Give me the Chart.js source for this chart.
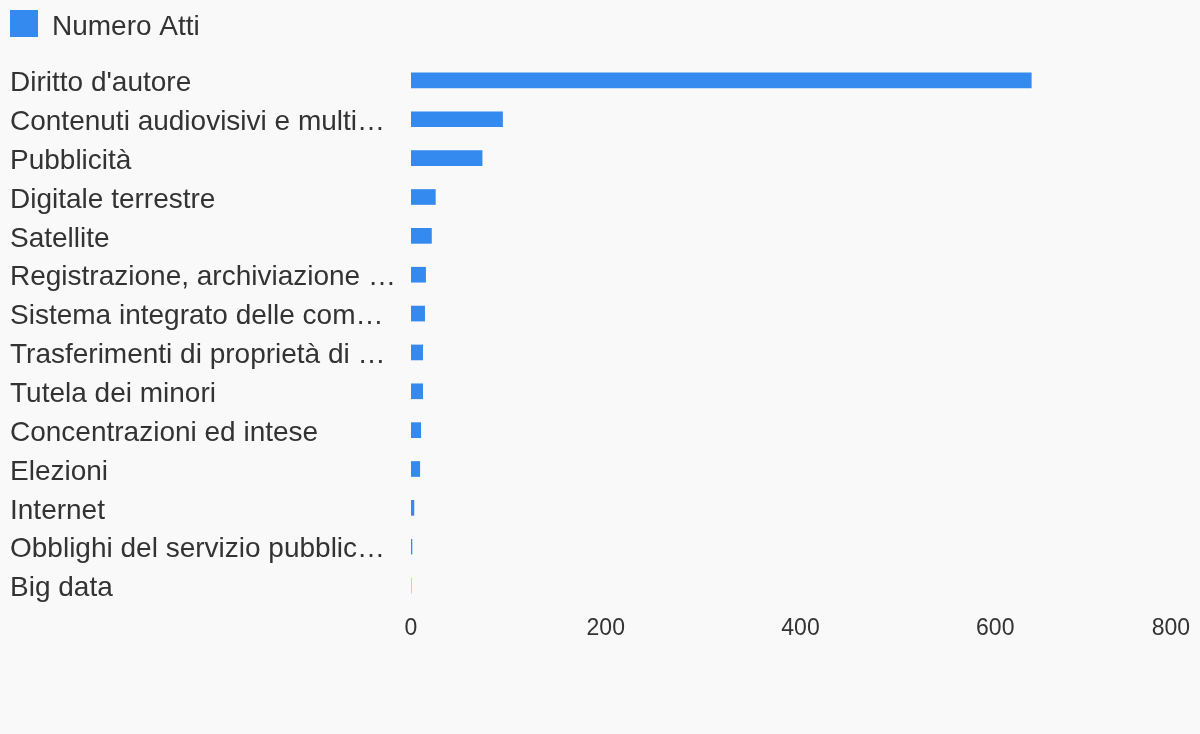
<!DOCTYPE html>
<html lang="it">
<head>
<meta charset="utf-8">
<title>Numero Atti per materia</title>
<script src="https://cdn.jsdelivr.net/npm/chart.js@4.4.1/dist/chart.umd.min.js"></script>
<style>
  html, body { margin: 0; padding: 0; background: #f9f9f9; }
  #wrap { width: 1200px; height: 734px; }
  canvas { display: block; }
</style>
</head>
<body>
<div id="wrap"><canvas id="chart" width="1200" height="734"></canvas></div>
<script>
// Materie (asse verticale)
const categories = [
  "Diritto d'autore",
  "Contenuti audiovisivi e multimediali",
  "Pubblicità",
  "Digitale terrestre",
  "Satellite",
  "Registrazione, archiviazione e conservazione dei programmi",
  "Sistema integrato delle comunicazioni",
  "Trasferimenti di proprietà di società",
  "Tutela dei minori",
  "Concentrazioni ed intese",
  "Elezioni",
  "Internet",
  "Obblighi del servizio pubblico radiotelevisivo",
  "Big data"
];

// Numero di atti per materia
const seriesName = "Numero Atti";
const numeroAtti = [637, 94, 73, 25, 21, 15, 14, 12, 12, 10, 9, 3, 1, 0];

// Etichette dell'asse orizzontale
const xTicks = [0, 200, 400, 600, 800];

const FONT = '"Liberation Sans", Arial, sans-serif';
const TEXT = '#333333';
const BAR = '#348AEE';
const BG = '#f9f9f9';

// Tronca le etichette lunghe con i puntini di sospensione
const measure = document.createElement('canvas').getContext('2d');
measure.font = '28px ' + FONT;
function ellipsize(text, maxWidth) {
  if (measure.measureText(text).width <= maxWidth) return text;
  let s = text;
  while (s.length && measure.measureText(s + '\u2026').width > maxWidth) s = s.slice(0, -1);
  return s + '\u2026';
}
const shortLabels = categories.map(c => ellipsize(c, 387.5));

// Simbolo della legenda: quadrato 28x27 nella parte alta dell'immagine,
// così il testo risulta leggermente più in basso del quadrato
const legendSwatch = document.createElement('canvas');
legendSwatch.width = 28;
legendSwatch.height = 34;
(function () {
  const c = legendSwatch.getContext('2d');
  c.fillStyle = BAR;
  c.fillRect(0, 0, 28, 27);
})();

// Sfondo della tela
const background = {
  id: 'background',
  beforeDraw(chart) {
    const { ctx, width, height } = chart;
    ctx.save();
    ctx.fillStyle = BG;
    ctx.fillRect(0, 0, width, height);
    ctx.restore();
  }
};

// Spazio fisso sotto la legenda
const legendSpacing = {
  id: 'legendSpacing',
  beforeLayout(chart) {
    const legend = chart.legend;
    if (legend && !legend._fixedHeight) {
      const fit = legend.fit;
      legend.fit = function () { fit.call(this); this.height = 51; };
      legend._fixedHeight = true;
    }
  }
};

// Etichette dell'asse x, l'ultima resta dentro l'area del grafico
const xTickLabels = {
  id: 'xTickLabels',
  afterDraw(chart) {
    const { ctx, chartArea, scales } = chart;
    const x = scales.x;
    ctx.save();
    ctx.font = '23px ' + FONT;
    ctx.fillStyle = TEXT;
    ctx.textAlign = 'center';
    ctx.textBaseline = 'alphabetic';
    x.ticks.forEach(t => {
      const label = String(t.label);
      const w = ctx.measureText(label).width;
      let px = x.getPixelForValue(t.value);
      px = Math.min(px, chartArea.right - w / 2);
      ctx.fillText(label, px, chartArea.bottom + 30);
    });
    ctx.restore();
  }
};

new Chart(document.getElementById('chart'), {
  type: 'bar',
  data: {
    labels: categories,
    datasets: [{
      label: seriesName,
      data: numeroAtti,
      backgroundColor: BAR,
      borderWidth: 0,
      barThickness: 15,
      pointStyle: legendSwatch
    }]
  },
  options: {
    indexAxis: 'y',
    responsive: false,
    animation: false,
    layout: { padding: { top: 10, left: 10, right: 10, bottom: 0 } },
    plugins: {
      legend: {
        display: true,
        position: 'top',
        align: 'start',
        title: {
          display: true,
          text: '',
          padding: 0,
          font: { size: 3, lineHeight: 1 }
        },
        labels: {
          usePointStyle: true,
          boxWidth: 28,
          boxHeight: 28,
          padding: 0,
          color: TEXT,
          font: { family: FONT, size: 28 }
        }
      },
      tooltip: { enabled: false }
    },
    scales: {
      x: {
        type: 'linear',
        min: xTicks[0],
        max: xTicks[xTicks.length - 1],
        grid: { display: false },
        border: { display: false },
        ticks: { display: false, stepSize: xTicks[1] - xTicks[0] },
        afterFit(scale) { scale.height = 129; }
      },
      y: {
        type: 'category',
        grid: { display: false },
        border: { display: false },
        ticks: {
          autoSkip: false,
          crossAlign: 'far',
          padding: 0,
          labelOffset: 3,
          color: TEXT,
          font: { family: FONT, size: 28 },
          callback: (value, index) => shortLabels[index]
        },
        afterFit(scale) { scale.width = 401; }
      }
    }
  },
  plugins: [background, legendSpacing, xTickLabels]
});
</script>
</body>
</html>
